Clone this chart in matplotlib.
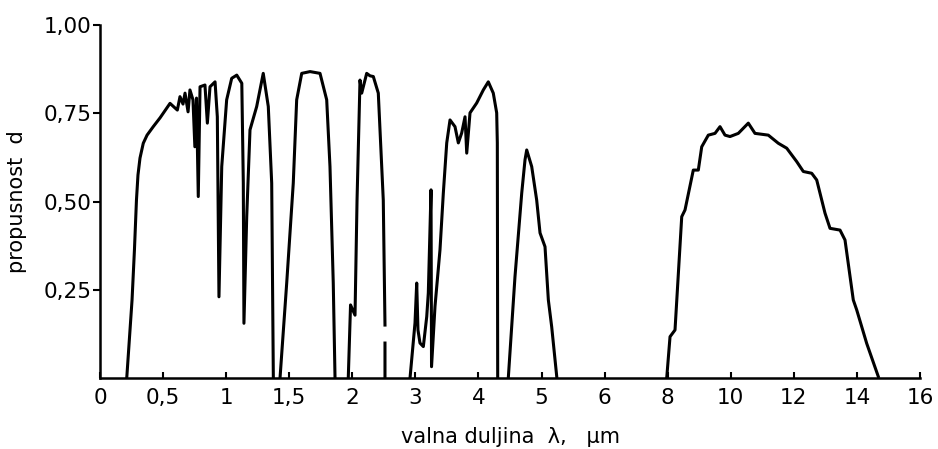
import numpy as np
import matplotlib.pyplot as plt

# oznake na osi x (nelinearna skala, jednaki razmaci izmedju oznaka)
x_ticks = [0, 0.5, 1, 1.5, 2, 3, 4, 5, 6, 8, 10, 12, 14, 16]
x_labels = ['0', '0,5', '1', '1,5', '2', '3', '4', '5', '6', '8', '10', '12', '14', '16']
y_ticks = [0.25, 0.5, 0.75, 1.0]
y_labels = ['0,25', '0,50', '0,75', '1,00']

# prozori propusnosti atmosfere (valna duljina u um, propusnost)
lam_1 = [0.212, 0.254, 0.273, 0.289, 0.301, 0.317, 0.343, 0.373, 0.422, 0.476, 0.555,
         0.613, 0.634, 0.658, 0.674,
         0.698, 0.713, 0.737, 0.752, 0.765, 0.779, 0.793, 0.832, 0.851, 0.872, 0.912,
         0.930, 0.943, 0.965, 1.004, 1.044, 1.084, 1.124, 1.136, 1.141, 1.163, 1.189,
         1.242, 1.294, 1.334, 1.361, 1.374]
t_1 = [0.0, 0.221, 0.363, 0.504, 0.575, 0.623, 0.665, 0.688, 0.712, 0.737, 0.778,
       0.759, 0.797, 0.776, 0.807,
       0.754, 0.816, 0.788, 0.655, 0.793, 0.514, 0.825, 0.830, 0.722, 0.825, 0.839,
       0.740, 0.230, 0.599, 0.788, 0.849, 0.858, 0.835, 0.552, 0.155, 0.457, 0.703,
       0.769, 0.863, 0.769, 0.552, 0.0]

lam_2 = [1.427, 1.480, 1.532, 1.559, 1.599, 1.665, 1.744, 1.797, 1.823, 1.849, 1.863]
t_2 = [0.0, 0.269, 0.552, 0.788, 0.863, 0.868, 0.863, 0.788, 0.599, 0.269, 0.0]

lam_3 = [1.968, 1.986, 2.043, 2.075, 2.122, 2.149, 2.228, 2.281, 2.333, 2.412, 2.491,
         2.518, np.nan, 2.518, 2.518]
t_3 = [0.0, 0.207, 0.178, 0.504, 0.844, 0.807, 0.863, 0.856, 0.854, 0.807, 0.504,
       0.150, np.nan, 0.099, 0.0]

lam_4 = [2.915, 2.994, 3.021, 3.041, 3.073, 3.126, 3.180, 3.205, 3.248, 3.256, 3.311,
         3.390, 3.443, 3.497, 3.549, 3.628, 3.681, 3.734, 3.787, 3.814, 3.866, 3.972,
         4.077, 4.156, 4.235, 4.289, 4.299, 4.305]
t_4 = [0.0, 0.156, 0.269, 0.136, 0.099, 0.089, 0.174, 0.241, 0.533, 0.032, 0.203,
       0.363, 0.524, 0.666, 0.731, 0.712, 0.666, 0.694, 0.740, 0.637, 0.751, 0.779,
       0.816, 0.839, 0.807, 0.751, 0.666, 0.0]

lam_5 = [4.473, 4.579, 4.686, 4.738, 4.765, 4.844, 4.923, 4.976, 5.055, 5.108, 5.161, 5.241]
t_5 = [0.0, 0.287, 0.524, 0.618, 0.646, 0.599, 0.504, 0.411, 0.372, 0.221, 0.145, 0.004]

lam_6 = [7.969, 8.074, 8.232, 8.445, 8.549, 8.812, 8.971, 9.079, 9.288, 9.500, 9.659,
         9.817, 9.976, 10.239, 10.556, 10.768, 11.190, 11.507, 11.774, 12.091, 12.300,
         12.566, 12.725, 12.988, 13.147, 13.464, 13.622, 13.885, 13.993, 14.310, 14.678]
t_6 = [0.0, 0.117, 0.136, 0.457, 0.476, 0.589, 0.589, 0.655, 0.688, 0.693, 0.712,
       0.688, 0.684, 0.693, 0.722, 0.693, 0.688, 0.665, 0.651, 0.613, 0.585,
       0.580, 0.561, 0.467, 0.424, 0.419, 0.391, 0.221, 0.193, 0.098, 0.004]

idx = np.arange(len(x_ticks))


def naprijed(x):
    return np.interp(x, x_ticks, idx)


def natrag(u):
    return np.interp(u, idx, x_ticks)


fig = plt.figure(figsize=(9.38, 4.49), dpi=100)
ax = fig.add_axes([100 / 938, 71 / 449, 820 / 938, 353 / 449])
ax.set_xscale('function', functions=(naprijed, natrag))

for lam, t in [(lam_1, t_1), (lam_2, t_2), (lam_3, t_3), (lam_4, t_4), (lam_5, t_5), (lam_6, t_6)]:
    ax.plot(lam, t, color='black', lw=2.2, solid_joinstyle='round')

ax.set_xlim(0, 16)
ax.set_ylim(0, 1.0)
ax.spines['top'].set_visible(False)
ax.spines['right'].set_visible(False)
for s in ['left', 'bottom']:
    ax.spines[s].set_linewidth(1.8)

ax.set_xticks(x_ticks)
ax.set_xticklabels(x_labels)
ax.set_yticks(y_ticks)
ax.set_yticklabels(y_labels)
ax.tick_params(axis='x', direction='in', length=4, width=1.5, labelsize=15.5, pad=7)
ax.tick_params(axis='y', direction='out', length=5, width=1.5, labelsize=15.5, pad=1)

ax.set_xlabel('valna duljina  λ,   μm', fontsize=15, labelpad=14)
ax.set_ylabel('propusnost  d', fontsize=15, labelpad=12)

plt.savefig('out.png', dpi=100)
